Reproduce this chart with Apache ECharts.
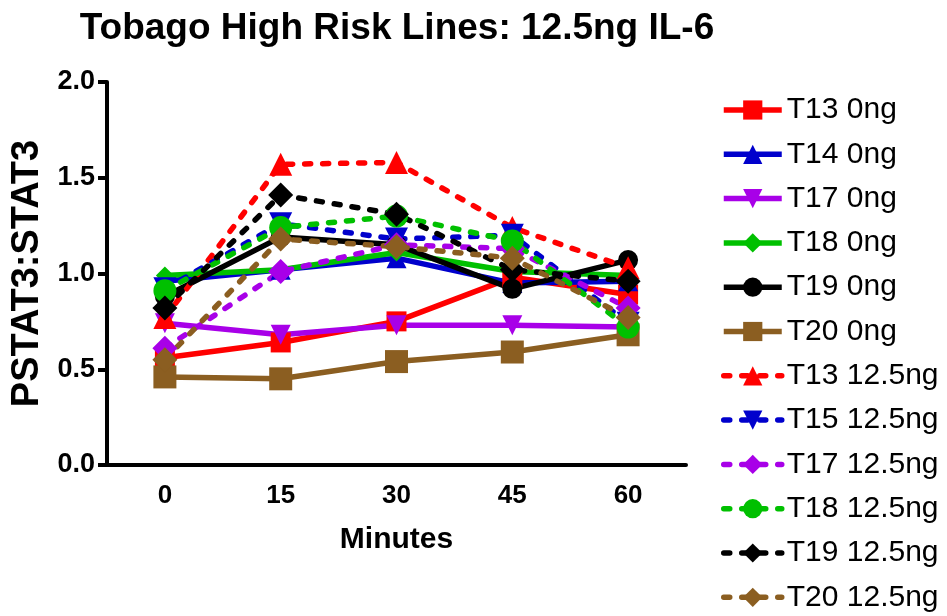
<!DOCTYPE html>
<html><head><meta charset="utf-8">
<script src="https://cdn.jsdelivr.net/npm/echarts@6/dist/echarts.min.js"></script>
<style>html,body{margin:0;padding:0;background:#fff}#c{width:947px;height:616px}</style>
</head><body><div id="c"></div>
<script>
const minutes = ['0', '15', '30', '45', '60'];
const yTicks = [0, 0.5, 1.0, 1.5, 2.0];
const T13_0ng = [0.56, 0.64, 0.75, 0.98, 0.89];
const T14_0ng = [0.96, 1.02, 1.08, 0.95, 0.96];
const T17_0ng = [0.74, 0.68, 0.73, 0.73, 0.72];
const T18_0ng = [0.99, 1.02, 1.11, 1.01, 0.99];
const T19_0ng = [0.88, 1.19, 1.15, 0.92, 1.07];
const T20_0ng = [0.46, 0.45, 0.54, 0.59, 0.68];
const T13_125ng = [0.77, 1.57, 1.58, 1.24, 1.03];
const T15_125ng = [0.92, 1.26, 1.18, 1.20, 0.74];
const T17_125ng = [0.61, 1.01, 1.15, 1.13, 0.82];
const T18_125ng = [0.91, 1.24, 1.30, 1.17, 0.72];
const T19_125ng = [0.82, 1.41, 1.31, 1.02, 0.96];
const T20_125ng = [0.55, 1.18, 1.14, 1.08, 0.77];

const RED = '#ff0000', BLUE = '#0000cc', PURPLE = '#a800e8', GREEN = '#00c000', BLACK = '#000000', BROWN = '#8b5e21';
const FONT = "'Liberation Sans', Arial, sans-serif";
const DASH = [6, 12];

function s(name, data, color, symbol, size, dashed, rotate) {
  return {
    name, type: 'line', data,
    symbol, symbolSize: size, symbolRotate: rotate || 0,
    lineStyle: { color: color, width: 5.5, type: dashed ? DASH : 'solid', cap: dashed ? 'round' : 'butt' },
    itemStyle: { color: color },
    emphasis: { disabled: true },
    animation: false
  };
}

const series = [
  s('T13 0ng', T13_0ng, RED, 'rect', 20, false),
  s('T14 0ng', T14_0ng, BLUE, 'triangle', 20, false),
  s('T17 0ng', T17_0ng, PURPLE, 'triangle', 20, false, 180),
  s('T18 0ng', T18_0ng, GREEN, 'diamond', 18, false),
  s('T19 0ng', T19_0ng, BLACK, 'circle', 20, false),
  s('T20 0ng', T20_0ng, BROWN, 'rect', 23, false),
  s('T13 12.5ng', T13_125ng, RED, 'triangle', 23, true),
  s('T15 12.5ng', T15_125ng, BLUE, 'triangle', 23, true, 180),
  s('T17 12.5ng', T17_125ng, PURPLE, 'diamond', 25, true),
  s('T18 12.5ng', T18_125ng, GREEN, 'circle', 23, true),
  s('T19 12.5ng', T19_125ng, BLACK, 'diamond', 25, true),
  s('T20 12.5ng', T20_125ng, BROWN, 'diamond', 25, true)
];

const chart = echarts.init(document.getElementById('c'), null, { renderer: 'canvas' });
chart.setOption({
  animation: false,
  backgroundColor: '#ffffff',
  title: {
    text: 'Tobago High Risk Lines: 12.5ng IL-6',
    left: 392, top: 5, textAlign: 'center',
    textStyle: { fontFamily: FONT, fontWeight: 'bold', fontSize: 37, color: '#000' }
  },
  grid: { left: 107, right: 261, top: 82, bottom: 151, containLabel: false },
  legend: {
    orient: 'vertical', left: 721, top: 95, padding: 0,
    itemWidth: 58, itemHeight: 24, itemGap: 14.3,
    lineStyle: { width: 5.5 },
    textStyle: { fontFamily: FONT, fontSize: 30, color: '#000', lineHeight: 30 },
    data: series.map(x => x.name),
    selectedMode: false
  },
  xAxis: {
    type: 'category', data: minutes, boundaryGap: true,
    name: 'Minutes', nameLocation: 'middle', nameGap: 60,
    nameTextStyle: { fontFamily: FONT, fontWeight: 'bold', fontSize: 30, color: '#000' },
    axisLine: { lineStyle: { color: '#000', width: 4 } },
    axisTick: { alignWithLabel: true, length: 9, lineStyle: { width: 4, color: '#000' } },
    axisLabel: { fontFamily: FONT, fontWeight: 'bold', fontSize: 26, color: '#000', margin: 18 },
    splitLine: { show: false }
  },
  yAxis: {
    type: 'value', min: yTicks[0], max: yTicks[yTicks.length - 1], interval: 0.5,
    name: 'PSTAT3:STAT3', nameLocation: 'middle', nameGap: 60,
    nameTextStyle: { fontFamily: FONT, fontWeight: 'bold', fontSize: 38, color: '#000' },
    axisLine: { show: true, lineStyle: { color: '#000', width: 4 } },
    axisTick: { show: true, length: 9, lineStyle: { width: 4, color: '#000' } },
    axisLabel: { fontFamily: FONT, fontWeight: 'bold', fontSize: 27, color: '#000', margin: 12,
      formatter: v => v.toFixed(1) },
    splitLine: { show: false }
  },
  series
});
</script></body></html>
